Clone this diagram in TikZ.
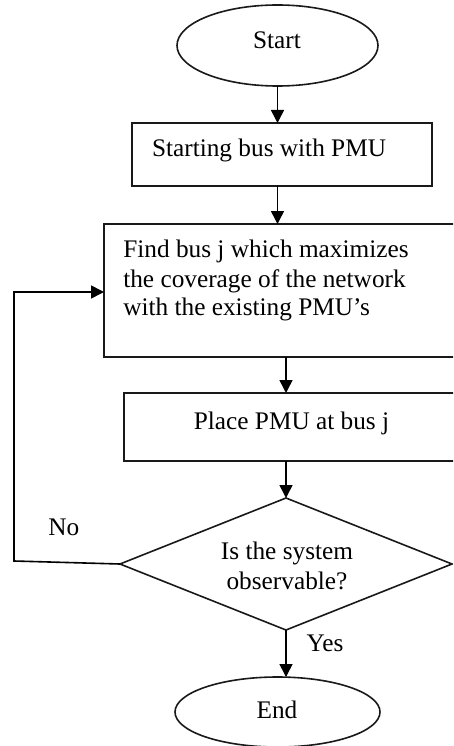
\documentclass[tikz,border=0pt]{standalone}
\usepackage{fontspec}
\setmainfont{Liberation Serif}
\usetikzlibrary{shapes.geometric,arrows.meta,calc}
\begin{document}
\begin{tikzpicture}[x=1pt,y=-1pt,
  every node/.style={font=\fontsize{25.3}{29}\selectfont, inner sep=0pt, outer sep=0pt},
  shapeline/.style={draw=black!90, line width=1.6pt},
  flow/.style={draw=black, line width=1.6pt, -{Triangle[length=13pt,width=13pt]}},
  txt/.style={anchor=base, text=black},
  txtl/.style={anchor=base west, text=black}]
% page frame
\clip (0,0) rectangle (453,746);
\fill[white] (0,0) rectangle (453,746);

% terminals, process boxes and decision
\node[ellipse, shapeline, minimum width=201pt, minimum height=81pt] (start) at (277.5,45.5) {};
\node[rectangle, shapeline, minimum width=300pt, minimum height=63pt, anchor=north west] (b1) at (132,123) {};
\node[rectangle, shapeline, minimum width=420pt, minimum height=133pt, anchor=north west] (b2) at (104,224) {};
\node[rectangle, shapeline, minimum width=420pt, minimum height=68pt, anchor=north west] (b3) at (124,393) {};
\node[diamond, shapeline, minimum width=332pt, minimum height=132pt] (dia) at (286,564) {};
\node[ellipse, shapeline, minimum width=205pt, minimum height=70pt] (end) at (277.5,712) {};

% texts
\node[txt] (starttext) at (277,49) {Start};
\node[txtl] (b1text) at (152,157) {Starting bus with PMU};
\node[txtl] (b2line1) at (123.3,257) {Find bus j which maximizes};
\node[txtl] (b2line2) at (123.3,287) {the coverage of the network};
\node[txtl] (b2line3) at (123.3,315) {with the existing PMU’s};
\node[txt] (b3text) at (291.5,429) {Place PMU at bus j};
\node[txt] (dialine1) at (287,559) {Is the system};
\node[txt] (dialine2) at (287,589) {observable?};
\node[txtl] (nolabel) at (48.3,535) {No};
\node[txtl] (yeslabel) at (306.7,651) {Yes};
\node[txt] (endtext) at (277,718) {End};

% connectors
\draw[flow] (start.south) -- (start.south |- b1.north);
\draw[flow] (b1.south -| start.south) -- (b2.north -| start.south);
\draw[flow] (b2.south -| dia.north) -- (b3.north -| dia.north);
\draw[flow] (b3.south -| dia.north) -- (dia.north);
\draw[flow] (dia.south) -- (dia.south |- end.north);

% loop back when not observable
\coordinate (loopbottom) at (14,561);
\coordinate (looptop) at (14,292);
\draw[flow] (dia.west) -- (loopbottom) -- (looptop) -- (looptop -| b2.west);
\end{tikzpicture}
\end{document}
